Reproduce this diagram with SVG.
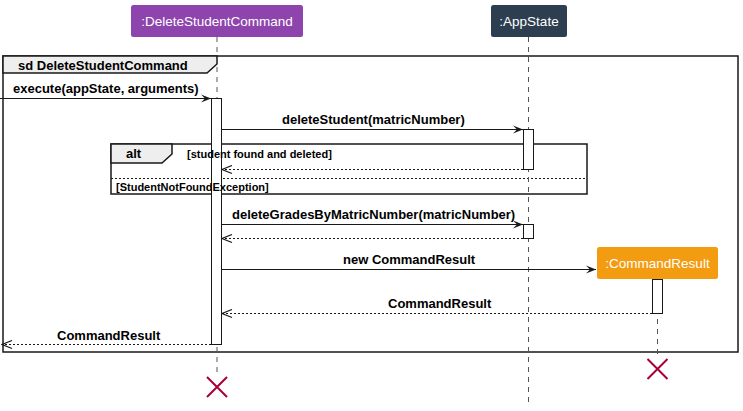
<svg xmlns="http://www.w3.org/2000/svg" width="743" height="411" viewBox="0 0 743 411">
<style>
.part{font-family:"Liberation Sans",Arial,sans-serif;font-size:13.5px;fill:#fff;text-anchor:middle}
.msg{font-family:"Liberation Sans",Arial,sans-serif;font-size:13px;font-weight:bold;fill:#000}
.grd{font-family:"Liberation Sans",Arial,sans-serif;font-size:11px;font-weight:bold;fill:#000}
.life{stroke:#555;stroke-width:1;stroke-dasharray:5,5;fill:none}
.act{fill:#fff;stroke:#181818;stroke-width:1}
.call{stroke:#181818;stroke-width:1;fill:none}
.ret{stroke:#181818;stroke-width:1;stroke-dasharray:2,2;fill:none}
.frame{fill:none;stroke:#181818;stroke-width:1.5}
.tab{fill:#eee;stroke:#181818;stroke-width:1.5}
.x{stroke:#A80036;stroke-width:2}
</style>
<defs>
<marker id="fill" markerWidth="12" markerHeight="10" refX="11" refY="5" orient="auto" markerUnits="userSpaceOnUse">
<path d="M1,1 L11,5 L1,9 L5,5 Z" fill="#181818"/>
</marker>
<marker id="open" markerWidth="12" markerHeight="10" refX="11" refY="5" orient="auto" markerUnits="userSpaceOnUse">
<path d="M1,1 L11,5 L1,9" fill="none" stroke="#181818" stroke-width="1.2"/>
</marker>
</defs>

<g id="frame-sd">
<rect class="frame" x="3" y="56" width="735" height="296"/>
<path class="tab" d="M3,56 L217,56 L217,64 L207,73 L3,73 Z"/>
<text class="msg" x="18" y="70">sd DeleteStudentCommand</text>
</g>

<g id="frame-alt">
<rect class="frame" x="111" y="144" width="476" height="50"/>
<path class="tab" d="M111,144 L172,144 L172,154 L162,163 L111,163 Z"/>
<text class="msg" x="126" y="158">alt</text>
<line x1="111" y1="178.5" x2="587" y2="178.5" stroke="#181818" stroke-width="1" stroke-dasharray="2,2"/>
</g>

<g id="lifelines">
<line class="life" x1="217" y1="37" x2="217" y2="377"/>
<line class="life" x1="528.5" y1="37" x2="528.5" y2="404"/>
<line class="life" x1="657.5" y1="279" x2="657.5" y2="359"/>
</g>

<g id="DeleteStudentCommand">
<rect x="131" y="5" width="172" height="32" rx="2.5" fill="#8E44AD"/>
<text class="part" x="217" y="26">:DeleteStudentCommand</text>
</g>
<g id="AppState">
<rect x="491" y="5" width="76" height="32" rx="2.5" fill="#2C3E50"/>
<text class="part" x="529" y="26">:AppState</text>
</g>
<g id="CommandResult">
<rect x="597" y="247" width="121" height="32" rx="2.5" fill="#F39C12"/>
<text class="part" x="657.5" y="268">:CommandResult</text>
</g>

<g id="activations">
<rect class="act" x="211.5" y="98.5" width="10" height="246"/>
<rect class="act" x="523.5" y="129.5" width="10" height="40"/>
<rect class="act" x="523.5" y="224.5" width="10" height="14"/>
<rect class="act" x="652.5" y="279.5" width="10" height="34"/>
</g>

<g id="guards">
<text class="grd" x="187" y="158">[student found and deleted]</text>
<text class="grd" x="116" y="191">[StudentNotFoundException]</text>
</g>

<g id="connectors">
<line class="call" x1="0" y1="98.5" x2="211" y2="98.5" marker-end="url(#fill)"/>
<text class="msg" x="13" y="93">execute(appState, arguments)</text>

<line class="call" x1="222" y1="129.5" x2="523" y2="129.5" marker-end="url(#fill)"/>
<text class="msg" x="282" y="124">deleteStudent(matricNumber)</text>

<line class="ret" x1="523" y1="169.5" x2="222" y2="169.5" marker-end="url(#open)"/>

<line class="call" x1="222" y1="224.5" x2="523" y2="224.5" marker-end="url(#fill)"/>
<text class="msg" x="232" y="219">deleteGradesByMatricNumber(matricNumber)</text>

<line class="ret" x1="523" y1="238.5" x2="222" y2="238.5" marker-end="url(#open)"/>

<line class="call" x1="222" y1="269.5" x2="596" y2="269.5" marker-end="url(#fill)"/>
<text class="msg" x="343" y="264">new CommandResult</text>

<line class="ret" x1="652" y1="313.5" x2="222" y2="313.5" marker-end="url(#open)"/>
<text class="msg" x="388" y="308">CommandResult</text>

<line class="ret" x1="211" y1="344.5" x2="2" y2="344.5" marker-end="url(#open)"/>
<text class="msg" x="57" y="340">CommandResult</text>
</g>

<g id="destroy">
<path class="x" d="M207,377 L227,397 M227,377 L207,397"/>
<path class="x" d="M647.5,359 L667.5,379 M667.5,359 L647.5,379"/>
</g>
</svg>
